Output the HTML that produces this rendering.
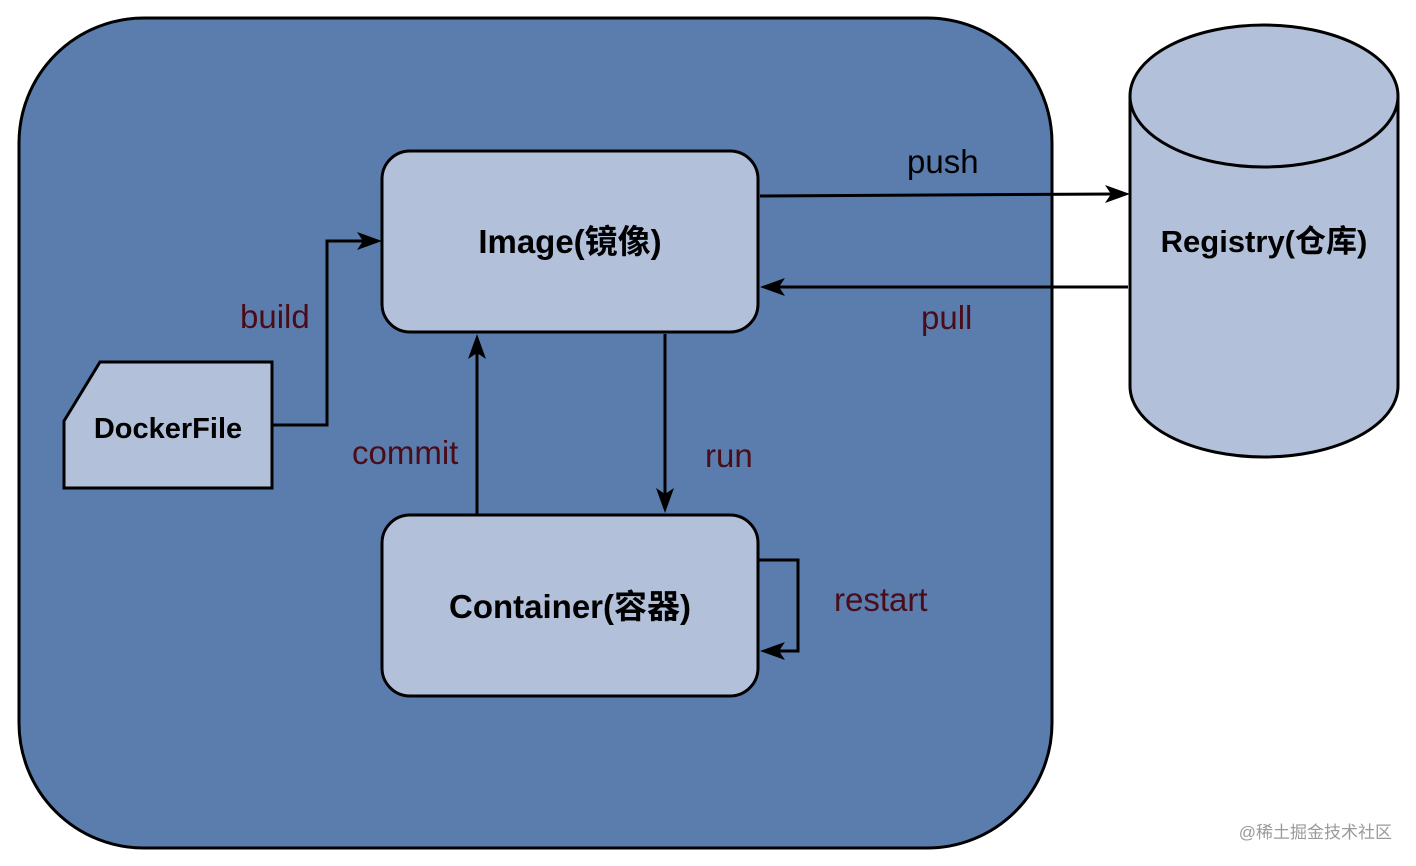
<!DOCTYPE html>
<html><head><meta charset="utf-8"><style>html,body{margin:0;padding:0;background:#fff}svg{display:block}</style></head>
<body>
<svg width="1416" height="866" viewBox="0 0 1416 866" xmlns="http://www.w3.org/2000/svg">
<rect x="19" y="18" width="1033" height="830" rx="125" ry="125" fill="#5a7dae" stroke="#000" stroke-width="3"/>
<rect x="382" y="151" width="376" height="181" rx="28" fill="#b2c0da" stroke="#000" stroke-width="3"/>
<rect x="382" y="515" width="376" height="181" rx="28" fill="#b2c0da" stroke="#000" stroke-width="3"/>
<polygon points="64,421 100,362 272,362 272,488 64,488" fill="#b2c0da" stroke="#000" stroke-width="3"/>
<path d="M1130,96 L1130,386 A134,71 0 0 0 1398,386 L1398,96 A134,71 0 0 0 1130,96 Z" fill="#b2c0da" stroke="#000" stroke-width="3"/>
<path d="M1130,96 A134,71 0 0 0 1398,96" fill="none" stroke="#000" stroke-width="3"/>
<g fill="none" stroke="#000" stroke-width="3">
<polyline points="272,425 327,425 327,241 368,241"/>
<line x1="760" y1="196" x2="1116" y2="194"/>
<line x1="1128" y1="287" x2="774" y2="287"/>
<line x1="477" y1="514" x2="477" y2="348"/>
<line x1="665" y1="334" x2="665" y2="498"/>
<polyline points="758,560 798,560 798,651 774,651"/>
</g>
<g fill="#000">
<polygon points="382,241 357,232 363,241 357,250"/>
<polygon points="1130,194 1105,185 1111,194 1105,203"/>
<polygon points="760,287 785,278 779,287 785,296"/>
<polygon points="477,334 468,359 477,353 486,359"/>
<polygon points="665,513 656,488 665,494 674,488"/>
<polygon points="760,651 785,642 779,651 785,660"/>
</g>
<g font-family="'Liberation Sans','Noto Sans CJK SC',sans-serif" font-size="33">
<text x="570" y="253" text-anchor="middle" font-weight="bold" font-size="33">Image(镜像)</text>
<text x="570" y="618" text-anchor="middle" font-weight="bold" font-size="33">Container(容器)</text>
<text x="168" y="438" text-anchor="middle" font-weight="bold" font-size="29">DockerFile</text>
<text x="1264" y="252" text-anchor="middle" font-weight="bold" font-size="31">Registry(仓库)</text>
<text x="240" y="328" fill="#4a0c18">build</text>
<text x="907" y="173" fill="#000">push</text>
<text x="921" y="329" fill="#4a0c18">pull</text>
<text x="352" y="464" fill="#4a0c18">commit</text>
<text x="705" y="467" fill="#4a0c18">run</text>
<text x="834" y="611" fill="#4a0c18">restart</text>
<text x="1392" y="838" text-anchor="end" font-size="17" fill="#9a9a9a">@稀土掘金技术社区</text>
</g>
</svg>
</body></html>
